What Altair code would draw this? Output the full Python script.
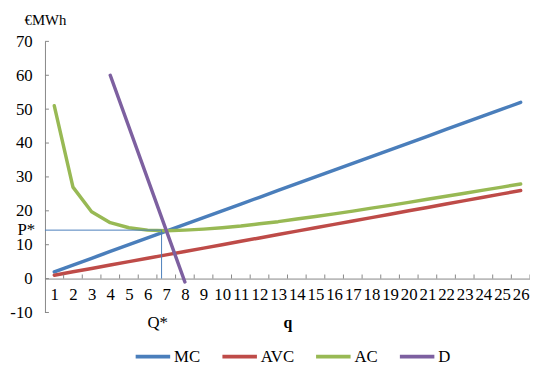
import altair as alt
import pandas as pd

q = list(range(1, 27))
mc = [2, 4, 6, 8, 10, 12, 14, 16, 18, 20, 22, 24, 26, 28, 30, 32, 34, 36, 38, 40, 42, 44, 46, 48, 50, 52]
avc = [1, 2, 3, 4, 5, 6, 7, 8, 9, 10, 11, 12, 13, 14, 15, 16, 17, 18, 19, 20, 21, 22, 23, 24, 25, 26]
ac = [51, 27, 19.7, 16.5, 15, 14.3, 14.1, 14.3, 14.6, 15, 15.5, 16.2, 16.8, 17.6, 18.3, 19.1,
      19.9, 20.8, 21.6, 22.5, 23.4, 24.3, 25.2, 26.1, 27, 27.9]
d_q = [4, 8]
d_val = [60, -1]
series = ["MC", "AVC", "AC", "D"]
colors = ["#4A7EBB", "#BE4B48", "#98B954", "#7D60A0"]
y_ticks = [-10, 0, 10, 20, 30, 40, 50, 60, 70]
x_tick_marks = [i + 0.5 for i in range(1, 27)]
p_star = 14.3
q_star = 6.75

rows = []
for name, vals in [("MC", mc), ("AVC", avc), ("AC", ac)]:
    for qq, v in zip(q, vals):
        rows.append({"series": name, "q": qq, "v": v})
for qq, v in zip(d_q, d_val):
    rows.append({"series": "D", "q": qq, "v": v})
df = pd.DataFrame(rows)

FONT = "Liberation Serif"
FS = 17
AX = "#868686"
W, H = 492, 275

xs = alt.Scale(domain=[0.5, 26.5], nice=False, zero=False)
ys = alt.Scale(domain=[-10, 70], nice=False, zero=False)

lines = alt.Chart(df).mark_line(strokeWidth=3.5, strokeCap="round", strokeJoin="round").encode(
    x=alt.X("q:Q", scale=xs, title="q",
            axis=alt.Axis(values=q, tickCount=40, ticks=False, grid=False, offset=-34.4, domainColor=AX,
                          labelFont=FONT, labelFontSize=FS, labelColor="black", labelPadding=8,
                          labelExpr="'' + datum.value",
                          titleFont=FONT, titleFontSize=16, titleFontWeight="bold",
                          titleColor="black", titlePadding=13, labelFlush=False, labelOverlap=False)),
    y=alt.Y("v:Q", scale=ys, title="€MWh",
            axis=alt.Axis(values=y_ticks, tickCount=20, ticks=False, grid=False, domainColor=AX,
                          labelFont=FONT, labelFontSize=FS, labelColor="black", labelPadding=13,
                          labelExpr="'' + datum.value", labelOverlap=False, labelFlush=False,
                          titleFont=FONT, titleFontSize=15, titleFontWeight="normal",
                          titleColor="black", titleAngle=0, titleX=0, titleY=-17,
                          titleAlign="center", titleBaseline="alphabetic")),
    color=alt.Color("series:N", scale=alt.Scale(domain=series, range=colors), title=None,
                    legend=alt.Legend(orient="none", direction="horizontal", legendX=90, legendY=300,
                                      symbolType="stroke", symbolSize=1225, symbolStrokeWidth=4,
                                      labelFont=FONT, labelFontSize=FS, labelColor="black",
                                      labelOffset=2, columnPadding=14)),
    detail="series:N",
)

ytick_df = pd.DataFrame({"y": y_ticks})
yticks = alt.Chart(ytick_df).mark_rule(color=AX, strokeWidth=1).encode(
    y=alt.Y("y:Q", scale=ys), x=alt.value(0), x2=alt.value(4))

xtick_df = pd.DataFrame({"x": x_tick_marks, "y0": [0] * len(x_tick_marks), "y1": [1.2] * len(x_tick_marks)})
xticks = alt.Chart(xtick_df).mark_rule(color=AX, strokeWidth=1).encode(
    x=alt.X("x:Q", scale=xs), y=alt.Y("y0:Q", scale=ys), y2="y1:Q")

eq_df = pd.DataFrame({"x0": [0.5], "x1": [q_star], "y0": [0], "y1": [p_star]})
hrule = alt.Chart(eq_df).mark_rule(color="#4A7EBB", strokeWidth=1).encode(
    x=alt.X("x0:Q", scale=xs), x2="x1:Q", y=alt.Y("y1:Q", scale=ys))
vrule = alt.Chart(eq_df).mark_rule(color="#4A7EBB", strokeWidth=1).encode(
    x=alt.X("x1:Q", scale=xs), y=alt.Y("y0:Q", scale=ys), y2="y1:Q")

lab_df = pd.DataFrame({"t": ["P*"], "y": [p_star]})
plab = alt.Chart(lab_df).mark_text(font=FONT, fontSize=FS, align="right", baseline="middle", color="black").encode(
    y=alt.Y("y:Q", scale=ys), x=alt.value(-10), text="t:N")
qlab_df = pd.DataFrame({"t": ["Q*"], "x": [q_star]})
qlab = alt.Chart(qlab_df).mark_text(font=FONT, fontSize=FS, align="center", baseline="middle", color="black", dx=-4).encode(
    x=alt.X("x:Q", scale=xs), y=alt.value(286), text="t:N")

chart = alt.layer(lines, hrule, vrule, yticks, xticks, plab, qlab).properties(
    width=W, height=H,
    autosize=alt.AutoSizeParams(type="none"),
    padding={"left": 37.5, "top": 31.3, "right": 0, "bottom": 50},
).configure(
    font=FONT,
    view=alt.ViewConfig(stroke=None),
    axis=alt.AxisConfig(labelOverlap=False, labelFont=FONT, labelFontSize=FS),
)

chart.save("out.html", embed_options={"renderer": "svg", "actions": False})
